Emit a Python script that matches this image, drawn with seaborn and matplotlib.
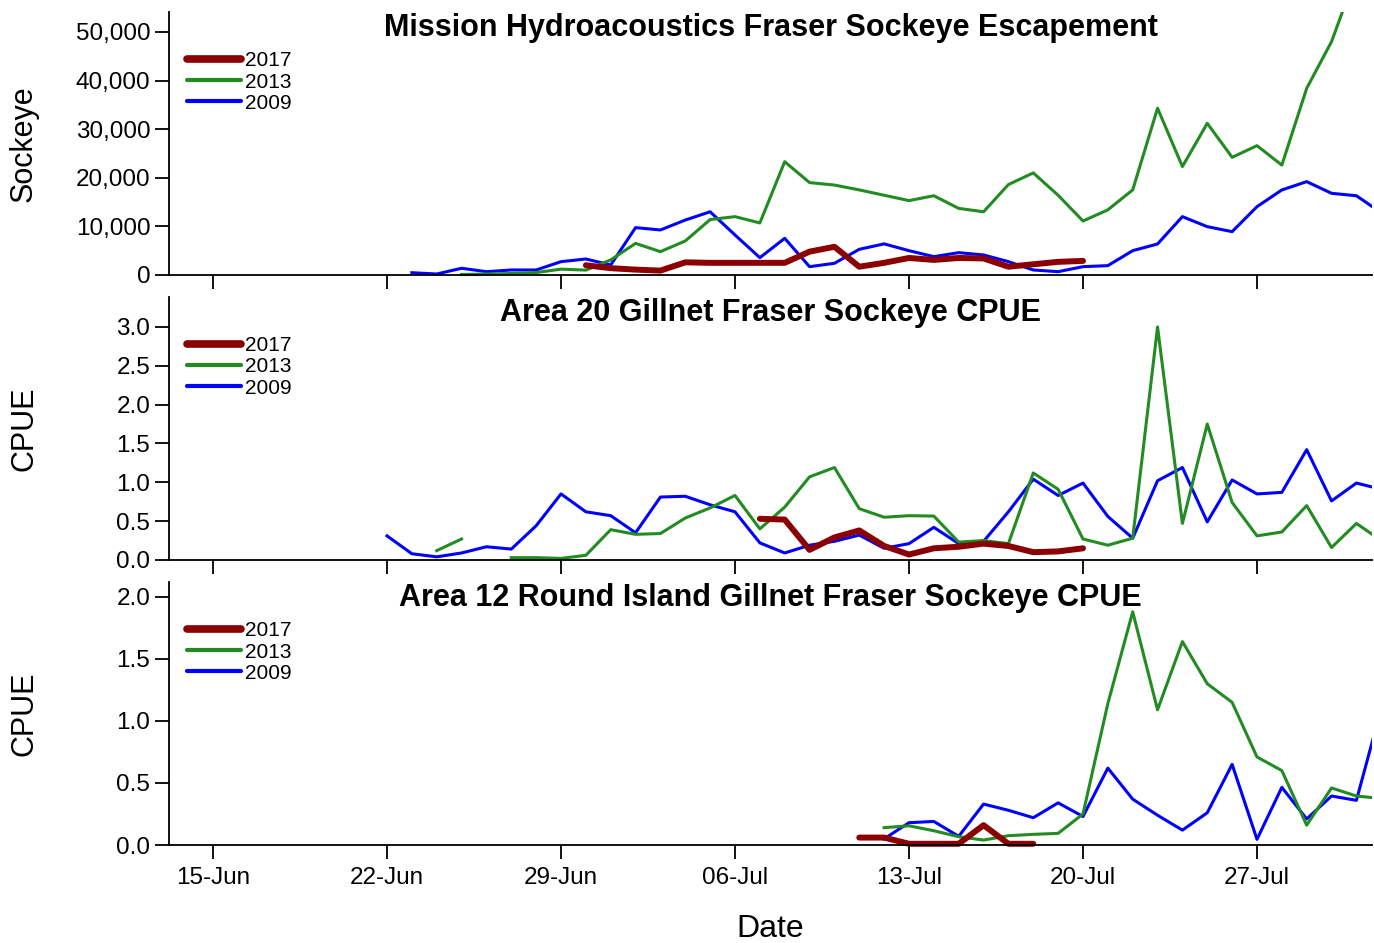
import matplotlib
matplotlib.use("Agg")
import matplotlib.pyplot as plt
import matplotlib.dates as mdates
import matplotlib.ticker as mticker
from matplotlib.lines import Line2D
from matplotlib.patches import Rectangle
import pandas as pd
import seaborn as sns

# Series order / styling
years = ['2017', '2013', '2009']
colors = {'2017': '#8B0000', '2013': '#228B22', '2009': '#0000FF'}
widths = {'2017': 4.3, '2013': 2.2, '2009': 2.2}

# Mission hydroacoustics escapement (daily, first date given)
mission_2017_start = '2017-06-30'
mission_2017 = [2000, 1400, 1100, 900, 2600, 2500, 2500, 2500, 2500, 4800,
                5800, 1700, 2500, 3500, 3100, 3500, 3400, 1700, 2200, 2700, 2900]
mission_2013_start = '2017-06-25'
mission_2013 = [100, 200, 300, 500, 1200, 1000, 3100, 6500, 4800, 7000,
                11400, 12000, 10700, 23300, 19000, 18500, 17500, 16400, 15300, 16300,
                13700, 13000, 18600, 21000, 16400, 11100, 13400, 17500, 34300, 22300,
                31200, 24200, 26600, 22600, 38400, 48000, 62000, 66000]
mission_2009_start = '2017-06-23'
mission_2009 = [470, 200, 1380, 680, 1030, 1030, 2740, 3290, 2060, 9740,
                9260, 11300, 13000, 8230, 3560, 7540, 1710, 2400, 5280, 6400,
                5000, 3770, 4590, 4120, 2740, 1030, 680, 1710, 1920, 5000,
                6380, 12000, 9940, 8910, 14050, 17490, 19200, 16800, 16300, 12800]

# Area 20 gillnet CPUE
a20_2017_start = '2017-07-07'
a20_2017 = [0.53, 0.52, 0.13, 0.29, 0.38, 0.18, 0.07, 0.15, 0.17, 0.21,
            0.18, 0.10, 0.11, 0.15]
a20_2013_start = '2017-06-24'
a20_2013 = [0.12, 0.27, None, 0.03, 0.03, 0.02, 0.06, 0.39, 0.33, 0.34,
            0.54, 0.67, 0.83, 0.40, 0.68, 1.07, 1.19, 0.66, 0.55, 0.57,
            0.565, 0.23, 0.25, 0.21, 1.12, 0.91, 0.27, 0.19, 0.28, 3.00,
            0.47, 1.75, 0.74, 0.31, 0.36, 0.70, 0.16, 0.47, 0.25]
a20_2009_start = '2017-06-22'
a20_2009 = [0.31, 0.08, 0.04, 0.09, 0.17, 0.14, 0.44, 0.85, 0.62, 0.57,
            0.35, 0.81, 0.82, 0.71, 0.62, 0.22, 0.09, 0.19, 0.24, 0.32,
            0.15, 0.21, 0.42, 0.21, 0.24, 0.62, 1.04, 0.83, 0.99, 0.56,
            0.28, 1.02, 1.19, 0.49, 1.03, 0.85, 0.87, 1.42, 0.76, 0.99, 0.91]

# Area 12 Round Island gillnet CPUE
a12_2017_start = '2017-07-11'
a12_2017 = [0.06, 0.06, 0.01, 0.01, 0.01, 0.16, 0.01, 0.01]
a12_2013_start = '2017-07-12'
a12_2013 = [0.14, 0.155, 0.115, 0.067, 0.04, 0.075, 0.086, 0.094, 0.25, 1.14,
            1.88, 1.09, 1.64, 1.30, 1.15, 0.71, 0.60, 0.16, 0.46, 0.395, 0.375]
a12_2009_start = '2017-07-12'
a12_2009 = [0.05, 0.18, 0.19, 0.07, 0.33, 0.28, 0.22, 0.34, 0.23, 0.62,
            0.37, 0.24, 0.12, 0.26, 0.65, 0.046, 0.465, 0.21, 0.395, 0.36, 1.10]

tick_dates = ['2017-06-15', '2017-06-22', '2017-06-29', '2017-07-06',
              '2017-07-13', '2017-07-20', '2017-07-27']

panels = [
    {'title': 'Mission Hydroacoustics Fraser Sockeye Escapement', 'ylabel': 'Sockeye',
     'ylim': (0, 54100), 'yticks': [0, 10000, 20000, 30000, 40000, 50000], 'fmt': '{:,.0f}',
     'series': {'2017': (mission_2017_start, mission_2017),
                '2013': (mission_2013_start, mission_2013),
                '2009': (mission_2009_start, mission_2009)}},
    {'title': 'Area 20 Gillnet Fraser Sockeye CPUE', 'ylabel': 'CPUE',
     'ylim': (0, 3.386), 'yticks': [0, 0.5, 1.0, 1.5, 2.0, 2.5, 3.0], 'fmt': '{:.1f}',
     'series': {'2017': (a20_2017_start, a20_2017),
                '2013': (a20_2013_start, a20_2013),
                '2009': (a20_2009_start, a20_2009)}},
    {'title': 'Area 12 Round Island Gillnet Fraser Sockeye CPUE', 'ylabel': 'CPUE',
     'ylim': (0, 2.12), 'yticks': [0, 0.5, 1.0, 1.5, 2.0], 'fmt': '{:.1f}',
     'series': {'2017': (a12_2017_start, a12_2017),
                '2013': (a12_2013_start, a12_2013),
                '2009': (a12_2009_start, a12_2009)}},
]


def to_frame(start, values):
    """Daily series -> frame, with a segment id so gaps stay gaps."""
    df = pd.DataFrame({'date': pd.date_range(start, periods=len(values), freq='D'),
                       'value': pd.Series(values, dtype='float')})
    df['seg'] = df['value'].isna().cumsum()
    return df.dropna()


sns.set_style('ticks')
plt.rcParams['font.family'] = ['Liberation Sans', 'DejaVu Sans']
plt.rcParams.update({'axes.linewidth': 1.3, 'text.color': 'black',
                     'axes.labelcolor': 'black', 'axes.edgecolor': 'black',
                     'xtick.color': 'black', 'ytick.color': 'black'})

fig = plt.figure(figsize=(13.74, 9.43), dpi=100)
bottoms = [0.7084, 0.4062, 0.1039]
axes = []
for i, (panel, bottom) in enumerate(zip(panels, bottoms)):
    ax = fig.add_axes([0.123, bottom, 0.8755, 0.2789], sharex=axes[0] if axes else None)
    axes.append(ax)

    # draw oldest first so 2017 sits on top
    for year in reversed(years):
        start, values = panel['series'][year]
        df = to_frame(start, values)
        sns.lineplot(data=df, x='date', y='value', units='seg', estimator=None,
                     color=colors[year], linewidth=widths[year], legend=False, ax=ax,
                     solid_capstyle='round' if year == '2017' else 'projecting')

    # clip at the right/top edge but let lines sit over the bottom spine
    clip = Rectangle((0, -0.05), 1, 1.05, transform=ax.transAxes)
    for line in ax.lines:
        line.set_clip_path(clip)

    ax.set_ylim(*panel['ylim'])
    ax.set_yticks(panel['yticks'])
    ax.yaxis.set_major_formatter(mticker.FuncFormatter(lambda v, p, f=panel['fmt']: f.format(v)))
    ax.set_ylabel(panel['ylabel'], fontsize=22)
    ax.yaxis.set_label_coords(-0.108, 0.5)
    ax.set_xlabel('')

    ax.text(0.5, 0.995, panel['title'], transform=ax.transAxes, ha='center', va='top',
            fontsize=22, fontweight='bold')

    handles = [Line2D([], [], color=colors[y], lw=5.5 if y == '2017' else 3.0,
                      solid_capstyle='round') for y in years]
    ax.legend(handles, years, loc='upper left', bbox_to_anchor=(0.015, 0.85),
              frameon=False, fontsize=15, handlelength=2.6, handletextpad=0.2,
              labelspacing=0.1, borderpad=0, borderaxespad=0)

    ax.tick_params(axis='both', direction='out', length=10, width=1.3,
                   labelsize=17.5, colors='black')
    sns.despine(ax=ax)
    if i < 2:
        ax.tick_params(axis='x', labelbottom=False)

ax = axes[-1]
ax.set_xlim(pd.Timestamp('2017-06-13 05:30'), pd.Timestamp('2017-07-31 15:00'))
ax.xaxis.set_major_locator(mticker.FixedLocator(mdates.date2num(pd.to_datetime(tick_dates))))
ax.xaxis.set_major_formatter(mdates.DateFormatter('%d-%b'))
ax.tick_params(axis='x', pad=6)
ax.set_xlabel('Date', fontsize=23, labelpad=18)

fig.savefig('out.png', dpi=100)
plt.close(fig)
